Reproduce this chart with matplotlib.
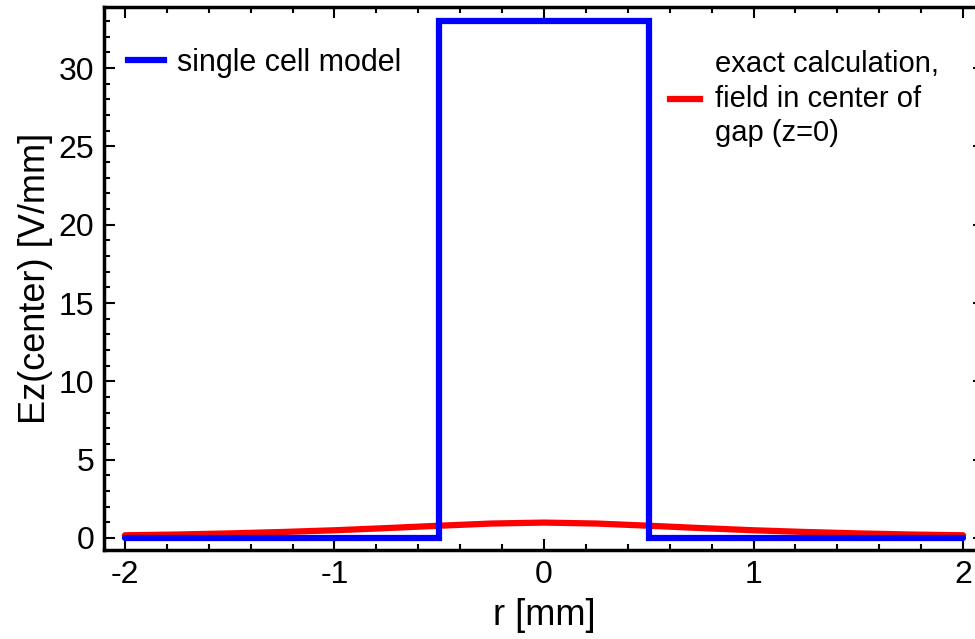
import matplotlib.pyplot as plt
from matplotlib.ticker import MultipleLocator

plt.rcParams['font.family'] = ['Liberation Sans', 'DejaVu Sans']
plt.rcParams['axes.unicode_minus'] = False

# single cell model: flat field inside the gap |r| < 0.5 mm
r_cell = [-2.0, -0.5, -0.5, 0.5, 0.5, 2.0]
ez_cell = [0.0, 0.0, 33.0, 33.0, 0.0, 0.0]

# exact calculation at z=0
r_exact = [-2.0, -1.75, -1.5, -1.25, -1.0, -0.75, -0.5, -0.25, 0.0,
           0.25, 0.5, 0.75, 1.0, 1.25, 1.5, 1.75, 2.0]
ez_exact = [0.17, 0.22, 0.29, 0.38, 0.49, 0.63, 0.78, 0.92, 0.98,
            0.92, 0.78, 0.63, 0.49, 0.38, 0.29, 0.22, 0.17]

fig = plt.figure(figsize=(9.75, 6.39), dpi=100)
ax = fig.add_axes([104/975, 89/639, 880/975, 543/639])

ax.plot(r_exact, ez_exact, color='#ff0000', lw=4.5, solid_capstyle='round')
ax.plot(r_cell, ez_cell, color='#0000ff', lw=4.5, solid_capstyle='round',
        solid_joinstyle='miter')

ax.set_xlim(-2.1, 2.1)
ax.set_ylim(-0.77, 33.9)
ax.xaxis.set_major_locator(MultipleLocator(1))
ax.xaxis.set_minor_locator(MultipleLocator(0.2))
ax.yaxis.set_major_locator(MultipleLocator(5))
ax.yaxis.set_minor_locator(MultipleLocator(1))
ax.tick_params(which='both', direction='in', top=True, right=True, width=1.5,
               labelsize=23, pad=7)
ax.tick_params(which='major', length=8)
ax.tick_params(which='minor', length=4)
for s in ax.spines.values():
    s.set_linewidth(2.5)

ax.set_xlabel('r [mm]', fontsize=26, labelpad=6)
ax.set_ylabel('Ez(center) [V/mm]', fontsize=26, labelpad=4)

h1, = ax.plot([], [], color='#0000ff', lw=4.5)
h2, = ax.plot([], [], color='#ff0000', lw=4.5)
leg1 = ax.legend([h1], ['single cell model'], loc='upper left',
                 bbox_to_anchor=(-0.0035, 0.975), frameon=False, fontsize=22,
                 handlelength=1.15, handletextpad=0.43)
ax.add_artist(leg1)
leg2 = ax.legend([h2], ['exact calculation,\nfield in center of\ngap (z=0)'],
                 loc='upper left', bbox_to_anchor=(0.613, 0.969),
                 frameon=False, fontsize=21, handlelength=1.05,
                 handletextpad=0.5)
leg2.get_texts()[0].set_linespacing(1.3)

fig.savefig('out.png', dpi=100)
